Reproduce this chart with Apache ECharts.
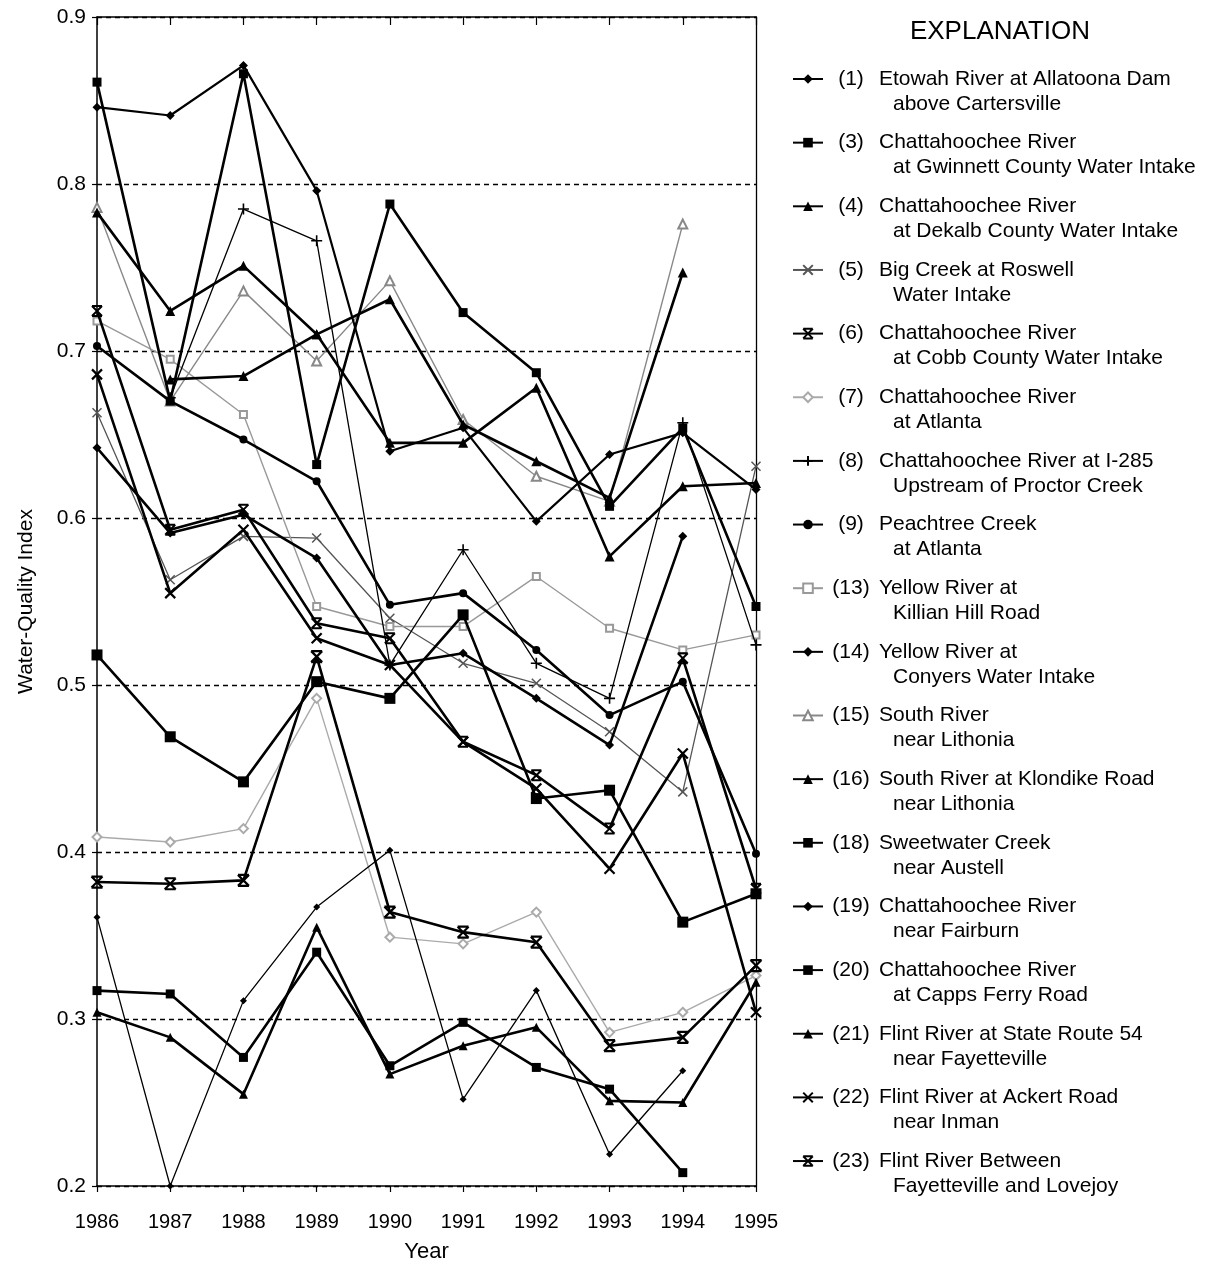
<!DOCTYPE html>
<html><head><meta charset="utf-8">
<script src="https://cdn.jsdelivr.net/npm/echarts@6/dist/echarts.min.js"></script>
<style>html,body{margin:0;padding:0;background:#fff}#c{width:1211px;height:1264px}</style>
</head><body><div id="c"></div>
<script>
// ---- data ----
const years = [1986,1987,1988,1989,1990,1991,1992,1993,1994,1995];
const site1  = [0.846,0.841,0.871,0.796,0.640,0.654,0.598,0.638,0.651,0.617];
const site3  = [0.861,0.670,0.866,0.632,0.788,0.723,0.687,0.607,0.654,0.547];
const site4  = [0.783,0.724,0.751,0.710,0.645,0.645,0.678,0.577,0.619,0.621];
const site5  = [0.663,0.563,0.589,0.588,0.540,0.513,0.501,0.472,0.436,0.631];
const site6  = [0.724,0.593,0.605,0.537,0.528,0.466,0.446,0.414,0.516,0.378];
const site7  = [0.409,0.406,0.414,0.492,0.349,0.345,0.364,0.292,0.304,0.326];
const site8  = [null,0.672,0.785,0.766,0.512,0.581,0.513,0.492,0.657,0.524];
const site9  = [0.703,0.670,0.647,0.622,0.548,0.555,0.521,0.482,0.502,0.399];
const site13 = [0.718,0.695,0.662,0.547,0.535,0.535,0.565,0.534,0.521,0.530];
const site14 = [0.642,0.591,0.602,0.576,0.512,0.519,0.492,0.464,0.589,null];
const site15 = [0.786,0.670,0.736,0.694,0.742,0.659,0.625,0.610,0.776,null];
const site16 = [null,0.683,0.685,0.710,0.731,0.656,0.634,0.612,0.747,null];
const site18 = [0.518,0.469,0.442,0.502,0.492,0.542,0.432,0.437,0.358,0.375];
const site19 = [0.361,0.200,0.311,0.367,0.401,0.252,0.317,0.219,0.269,null];
const site20 = [0.317,0.315,0.277,0.340,0.272,0.298,0.271,0.258,0.208,null];
const site21 = [0.304,0.289,0.255,0.355,0.267,0.284,0.295,0.251,0.250,0.322];
const site22 = [0.686,0.555,0.593,0.528,0.512,0.466,0.438,0.390,0.459,0.304];
const site23 = [0.382,0.381,0.383,0.517,0.364,0.352,0.346,0.284,0.289,0.332];

const siteNumbers = ['(1)','(3)','(4)','(5)','(6)','(7)','(8)','(9)','(13)','(14)','(15)','(16)','(18)','(19)','(20)','(21)','(22)','(23)'];
const labelLine1 = ['Etowah River at Allatoona Dam','Chattahoochee River','Chattahoochee River','Big Creek at Roswell','Chattahoochee River','Chattahoochee River','Chattahoochee River at I-285','Peachtree Creek','Yellow River at','Yellow River at','South River','South River at Klondike Road','Sweetwater Creek','Chattahoochee River','Chattahoochee River','Flint River at State Route 54','Flint River at Ackert Road','Flint River Between'];
const labelLine2 = ['above Cartersville','at Gwinnett County Water Intake','at Dekalb County Water Intake','Water Intake','at Cobb County Water Intake','at Atlanta','Upstream of Proctor Creek','at Atlanta','Killian Hill Road','Conyers Water Intake','near Lithonia','near Lithonia','near Austell','near Fairburn','at Capps Ferry Road','near Fayetteville','near Inman','Fayetteville and Lovejoy'];
const siteValues = [site1,site3,site4,site5,site6,site7,site8,site9,site13,site14,site15,site16,site18,site19,site20,site21,site22,site23];

// ---- styles ----
const X = 'path://M0,0L10,10M10,0L0,10';
const AST = 'path://M0,0L10,10M10,0L0,10M0,0L10,0M0,10L10,10';
const PLUS = 'path://M5,0L5,10M0,5L10,5';
const styles = [
  {sym:'diamond', size:9, w:2.2, c:'#000', b:0},
  {sym:'rect', size:9, w:2.6, c:'#000', b:0},
  {sym:'triangle', size:10, w:2.6, c:'#000', b:0},
  {sym:X, size:9, w:1.3, c:'#555', b:1.5},
  {sym:AST, size:10, w:2.6, c:'#000', b:2},
  {sym:'emptyDiamond', size:9, w:1.4, c:'#aaa', b:1.4},
  {sym:PLUS, size:11, w:1.3, c:'#000', b:1.6},
  {sym:'circle', size:8, w:2.6, c:'#000', b:0},
  {sym:'emptyRect', size:7, w:1.4, c:'#999', b:1.4},
  {sym:'diamond', size:9, w:2.6, c:'#000', b:0},
  {sym:'emptyTriangle', size:9, w:1.4, c:'#888', b:1.4},
  {sym:'triangle', size:10, w:2.6, c:'#000', b:0},
  {sym:'rect', size:11, w:2.6, c:'#000', b:0},
  {sym:'diamond', size:7, w:1.3, c:'#000', b:0},
  {sym:'rect', size:9, w:2.6, c:'#000', b:0},
  {sym:'triangle', size:9, w:2.6, c:'#000', b:0},
  {sym:X, size:10, w:2.6, c:'#000', b:2.2},
  {sym:AST, size:11, w:2.6, c:'#000', b:2.2}
];
const FONT = '"Liberation Sans", Arial, Helvetica, sans-serif';

const series = siteValues.map((vals, i) => {
  const st = styles[i];
  const data = [];
  years.forEach((y, k) => { if (vals[k] !== null) data.push([y, vals[k]]); });
  return {
    name: siteNumbers[i], type: 'line', data: data,
    symbol: st.sym, symbolSize: st.size, showSymbol: true, showAllSymbol: true,
    lineStyle: {color: st.c, width: st.w},
    itemStyle: {color: st.c, borderColor: st.c, borderWidth: st.b},
    emphasis: {disabled: true}, animation: false,
    z: st.c === '#000' ? 3 : 2
  };
});

const legendTop = 62, pitch = 63.65;
const graphics = [{type:'text', x:1000, y:32, style:{text:'EXPLANATION', fontSize:26, fontFamily:FONT, fill:'#000', align:'center', verticalAlign:'middle'}}];
labelLine2.forEach((t, i) => {
  graphics.push({type:'text', x:893, y: legendTop + 12 + 30 + i*pitch, style:{text:t, fontSize:21, fontFamily:FONT, fill:'#000', verticalAlign:'middle'}});
});

const chart = echarts.init(document.getElementById('c'), null, {renderer:'canvas'});
chart.setOption({
  backgroundColor:'#fff',
  animation:false,
  textStyle:{fontFamily:FONT},
  grid:{left:97, right:455, top:17, bottom:78, containLabel:false, outerBoundsMode:'none'},
  xAxis:[
    {type:'value', min:1986, max:1995, interval:1, position:'bottom',
     axisLine:{show:true, onZero:false, lineStyle:{color:'#000', width:1.5}},
     axisTick:{show:true, length:6, lineStyle:{color:'#000', width:1.2}},
     axisLabel:{fontSize:20, color:'#000', margin:26, fontFamily:FONT, formatter:v=>String(v)},
     splitLine:{show:false},
     name:'Year', nameLocation:'middle', nameGap:55, nameTextStyle:{fontSize:22, color:'#000', fontFamily:FONT}},
    {type:'value', min:1986, max:1995, interval:1, position:'top',
     axisLine:{show:true, onZero:false, lineStyle:{color:'#000', width:1.5}},
     axisTick:{show:true, inside:true, length:8, lineStyle:{color:'#000', width:1.2}},
     axisLabel:{show:false}, splitLine:{show:false}}
  ],
  yAxis:[
    {type:'value', min:0.2, max:0.9, interval:0.1,
     axisLine:{show:true, onZero:false, lineStyle:{color:'#000', width:1.5}},
     axisTick:{show:true, length:5, lineStyle:{color:'#000', width:1.2}},
     axisLabel:{fontSize:21, color:'#000', margin:11, fontFamily:FONT, formatter:v=>v.toFixed(1)},
     splitLine:{show:true, lineStyle:{color:'#000', width:1.3, type:[5,4]}},
     name:'Water-Quality Index', nameLocation:'middle', nameGap:60, nameRotate:90,
     nameTextStyle:{fontSize:21, color:'#000', fontFamily:FONT}},
    {type:'value', min:0.2, max:0.9, interval:0.1, position:'right',
     axisLine:{show:true, onZero:false, lineStyle:{color:'#000', width:1.3}},
     axisTick:{show:false}, axisLabel:{show:false}, splitLine:{show:false}}
  ],
  legend:{
    orient:'vertical', left:787, top:legendTop, itemWidth:30, itemHeight:12, itemGap:pitch-24,
    selectedMode:false, data:siteNumbers,
    formatter: name => { const i = siteNumbers.indexOf(name); return '{n|' + name + '}{t|' + labelLine1[i] + '}'; },
    textStyle:{fontSize:21, color:'#000', fontFamily:FONT, lineHeight:24,
      rich:{n:{width:46, align:'right', fontSize:21, fontFamily:FONT, color:'#000', lineHeight:24},
            t:{padding:[0,0,0,5], fontSize:21, fontFamily:FONT, color:'#000', lineHeight:24}}}
  },
  graphic: graphics,
  series: series
});
</script>
</body></html>
